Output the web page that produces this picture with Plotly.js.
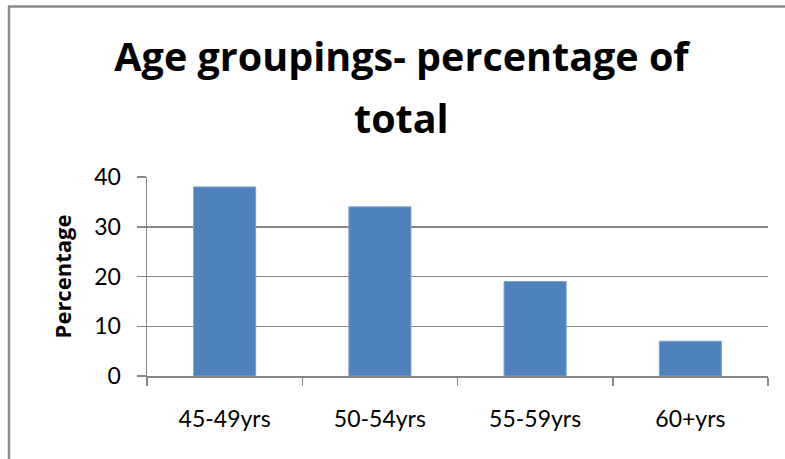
<!DOCTYPE html>
<html>
<head>
<meta charset="utf-8">
<script src="https://cdn.plot.ly/plotly-3.0.1.min.js"></script>
<style>
  html, body { margin: 0; padding: 0; background: #ffffff; }
  #chart { width: 785px; height: 459px; }
</style>
</head>
<body>
<div id="chart"></div>
<script>
const categories = ["45-49yrs", "50-54yrs", "55-59yrs", "60+yrs"];
const percentages = [38, 34, 19, 7];
const yTickValues = [0, 10, 20, 30, 40];
const titleLine1 = "Age groupings- percentage of";
const titleLine2 = "total";
const yAxisTitle = "Percentage";

const W = 785, H = 459;
const mL = 147, mR = 17, mT = 177, mB = 83;
const plotW = W - mL - mR, plotH = H - mT - mB;
const px2x = p => (p - mL) / plotW;
const px2y = p => (H - mB - p) / plotH;

const gray = "#878787";
const fontFam = "Lato, 'Open Sans', 'Liberation Sans', sans-serif";
const boldFam = "'Open Sans', Lato, 'Liberation Sans', sans-serif";

const trace = {
  type: "bar",
  x: categories,
  y: percentages,
  marker: { color: "#4F81BD", line: { color: "#7FA2D1", width: 1 } },
  width: 0.4,
  hoverinfo: "x+y"
};

const layout = {
  width: W, height: H,
  margin: { l: mL, r: mR, t: mT, b: mB, pad: 0 },
  paper_bgcolor: "#ffffff",
  plot_bgcolor: "#ffffff",
  showlegend: false,
  font: { family: fontFam, color: "#000000", size: 23 },
  title: {
    text: titleLine1,
    font: { family: boldFam, size: 39.5, weight: 700, color: "#000000" },
    x: 401.5 / W, xanchor: "center",
    xref: "container",
    yref: "container", y: 1 - 57.5 / H, yanchor: "middle"
  },
  annotations: [{
    text: titleLine2,
    showarrow: false,
    xref: "paper", yref: "paper",
    x: px2x(401.5), y: px2y(117.5),
    xanchor: "center", yanchor: "middle",
    font: { family: boldFam, size: 39.5, weight: 700, color: "#000000" }
  }],
  xaxis: {
    type: "category",
    tickson: "boundaries",
    ticks: "outside", ticklen: 8, tickwidth: 1.5, tickcolor: gray,
    showline: true, linecolor: gray, linewidth: 1.5,
    showgrid: false,
    ticklabelstandoff: 22,
    tickfont: { family: fontFam, size: 23, color: "#000000" },
    fixedrange: true
  },
  yaxis: {
    range: [0, 40],
    tickvals: yTickValues,
    ticks: "outside", ticklen: 9, tickwidth: 1.5, tickcolor: gray,
    showline: true, linecolor: gray, linewidth: 1.5,
    showgrid: true, gridcolor: gray, gridwidth: 1.5,
    zeroline: false,
    ticklabelstandoff: 11,
    tickfont: { family: fontFam, size: 23, color: "#000000" },
    title: {
      text: yAxisTitle,
      font: { family: boldFam, size: 22, weight: 700, color: "#000000" },
      standoff: 16
    },
    fixedrange: true
  },
  shapes: [
    { type: "line", xref: "paper", yref: "paper",
      x0: px2x(9), x1: px2x(9), y0: px2y(470), y1: px2y(6.5),
      line: { color: "#8a8a8a", width: 2.5 } },
    { type: "line", xref: "paper", yref: "paper",
      x0: px2x(8), x1: px2x(790), y0: px2y(6.5), y1: px2y(6.5),
      line: { color: "#8a8a8a", width: 2.5 } }
  ]
};

Plotly.newPlot("chart", [trace], layout, { displayModeBar: false, staticPlot: true });
</script>
</body>
</html>
